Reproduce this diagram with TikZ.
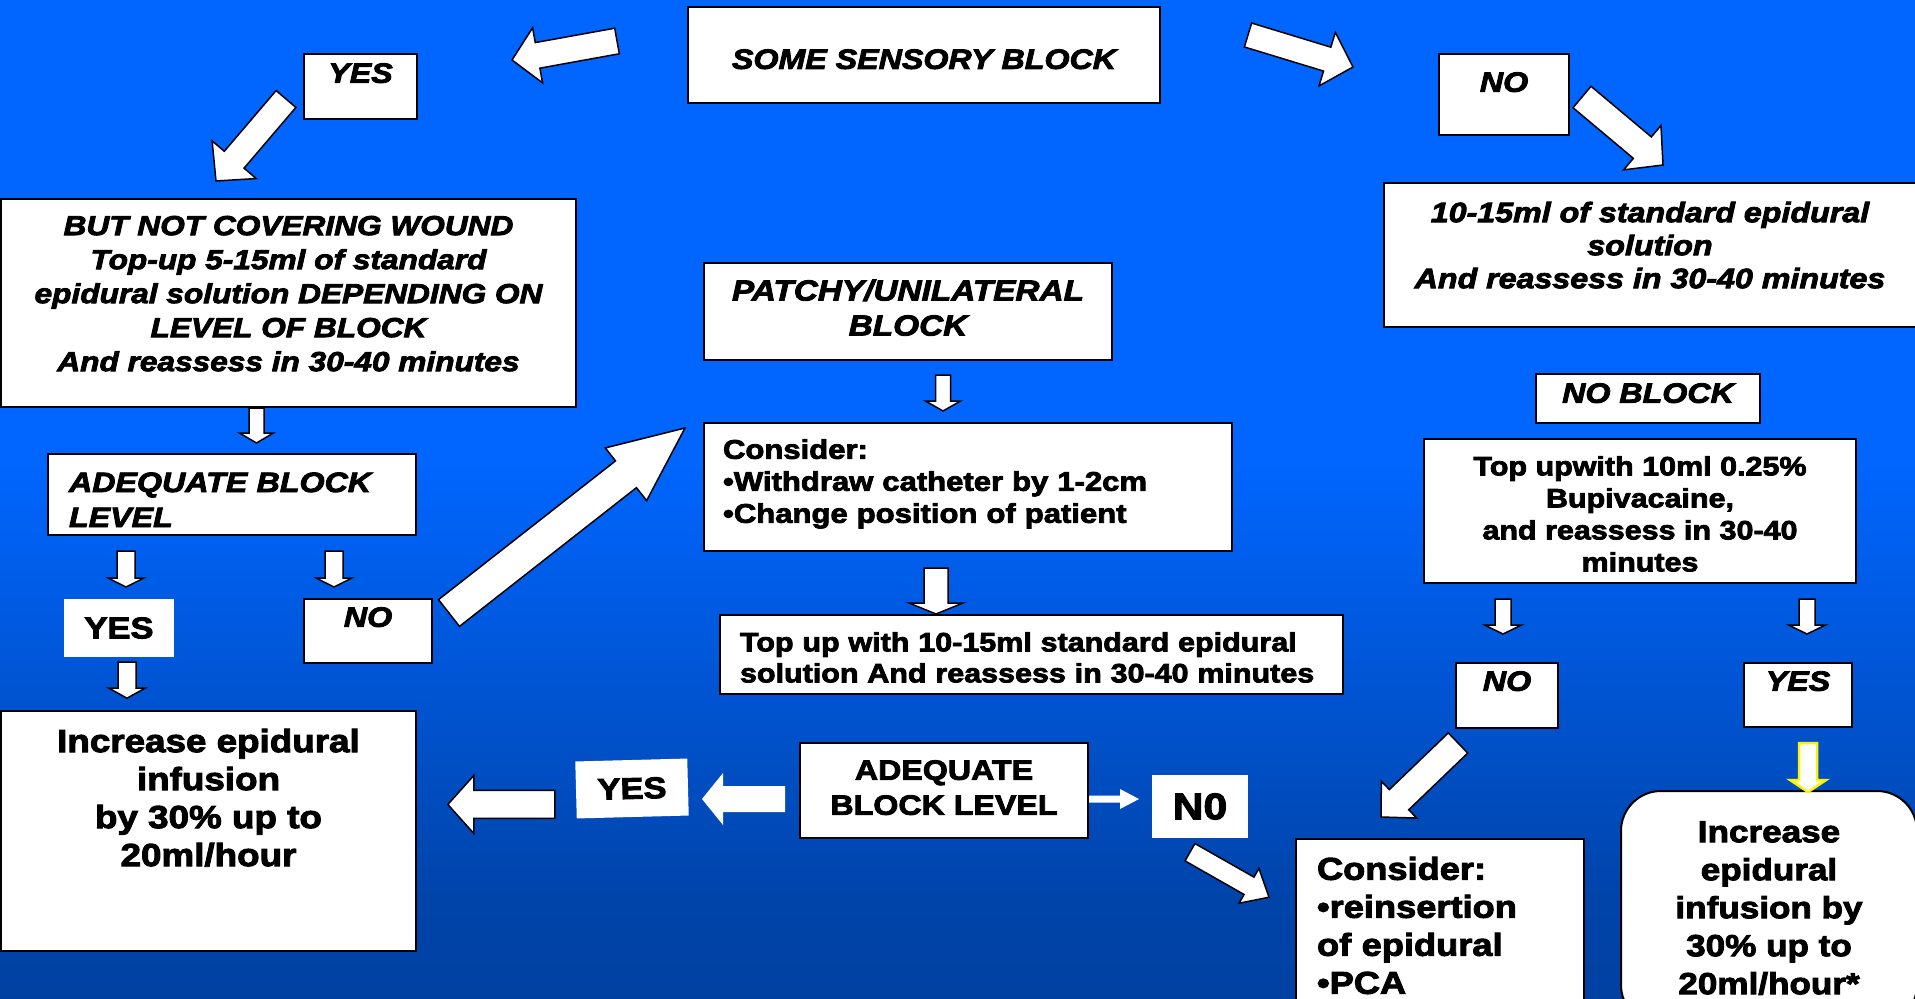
\documentclass[tikz,border=0pt]{standalone}
\usepackage{fontspec}
\setmainfont{Liberation Sans}[FakeStretch=1.15,FakeBold=3]
\usetikzlibrary{calc}

\definecolor{bgtop}{RGB}{0,86,214}
\definecolor{bgmid}{RGB}{0,102,255}
\definecolor{bgdeep}{RGB}{0,68,170}
\definecolor{bgbot}{RGB}{0,46,118}
\pgfdeclareverticalshading{slidebg}{100bp}{color(0bp)=(bgbot); color(30bp)=(bgdeep); color(52bp)=(bgmid); color(85bp)=(bgmid); color(100bp)=(bgtop)}

% block arrow: [style]{tail}{tip}{half shaft}{half head}{head length}
\newcommand{\fatarrow}[6][]{%
  \coordinate (fa) at ($(#3)!#6!(#2)$);
  \draw[arrowbody,#1] ($(#2)!#4!90:(#3)$) -- ($(fa)!#4!-90:(#2)$)
    -- ($(fa)!#5!-90:(#2)$) -- (#3) -- ($(fa)!#5!90:(#2)$)
    -- ($(fa)!#4!90:(#2)$) -- ($(#2)!#4!-90:(#3)$) -- cycle;
}

\begin{document}
\begin{tikzpicture}[x=1pt,y=-1pt,
    box/.style={draw=black,fill=white,line width=2pt,inner sep=0pt},
    tag/.style={fill=white,inner sep=0pt},
    hd/.style={font=\bfseries\itshape\fontsize{28}{35}\selectfont},
    arrowbody/.style={draw=black,fill=white,line width=1.5pt,line join=miter},
    bare/.style={draw=none},
    gold/.style={draw=yellow,line width=2.5pt}]

    \useasboundingbox (0,0) rectangle (1915,999);
    \clip (0,0) rectangle (1915,999);
    \shade[shading=slidebg] (0,0) rectangle (1915,999);

    % top row
    \node[box,hd,minimum width=472pt,minimum height=96pt,text height=28pt] (sensory) at (924,55) {SOME SENSORY BLOCK};
    \node[box,hd,minimum width=113pt,minimum height=65pt,text depth=27pt] (yesA) at (360.5,86.5) {YES};
    \node[box,hd,minimum width=130pt,minimum height=81pt,text depth=25pt] (noA) at (1504,94.5) {NO};

    % left branch
    \node[box,font=\bfseries\itshape\fontsize{27.5}{34}\selectfont,align=center,minimum width=575pt,minimum height=208pt,text depth=19pt] (wound) at (288.5,303)
        {BUT NOT COVERING WOUND\\Top-up 5-15ml of standard\\epidural solution DEPENDING ON\\LEVEL OF BLOCK\\And reassess in 30-40 minutes};
    \node[box,hd,align=left,text width=326pt,inner xsep=21pt,minimum height=81pt,text height=30pt] (adequateA) at (232,494.5) {ADEQUATE BLOCK\\LEVEL};
    \node[tag,font=\bfseries\fontsize{30}{36}\selectfont,minimum width=110pt,minimum height=58pt] (yesB) at (119,628) {YES};
    \node[box,hd,minimum width=128pt,minimum height=64pt,text depth=28pt] (noB) at (368,631) {NO};
    \node[box,font=\bfseries\fontsize{32}{38}\selectfont,align=center,minimum width=415pt,minimum height=240pt,text depth=67pt] (increaseA) at (208.5,831)
        {Increase epidural\\infusion\\by 30\% up to\\20ml/hour};

    % middle
    \node[box,font=\bfseries\itshape\fontsize{29}{35}\selectfont,align=center,minimum width=408pt,minimum height=97pt,text depth=8pt] (patchy) at (908,311.5) {PATCHY/UNILATERAL\\BLOCK};
    \node[box,font=\bfseries\fontsize{27}{32}\selectfont,align=left,text width=490pt,inner xsep=19pt,minimum height=128pt,text depth=76pt] (considerA) at (968,487)
        {Consider:\\•Withdraw catheter by 1-2cm\\•Change position of patient};
    \node[box,font=\bfseries\fontsize{26.5}{31}\selectfont,align=left,text width=583pt,inner xsep=20pt,minimum height=79pt,text height=25pt] (topupA) at (1031.5,654.5)
        {Top up with 10-15ml standard epidural\\solution And reassess in 30-40 minutes};
    \node[box,font=\bfseries\fontsize{28}{35}\selectfont,align=center,minimum width=288pt,minimum height=95pt,text depth=6pt] (adequateB) at (944,790.5) {ADEQUATE\\BLOCK LEVEL};
    \node[tag,font=\bfseries\fontsize{30}{36}\selectfont,minimum width=112pt,minimum height=57pt,rotate=1.5] (yesC) at (632,788.5) {YES};
    \node[tag,font=\bfseries\fontsize{37}{44}\selectfont,minimum width=96pt,minimum height=63pt] (noD) at (1200,806.5) {N0};

    % right branch
    \node[box,font=\bfseries\itshape\fontsize{28}{33}\selectfont,align=center,minimum width=532pt,minimum height=144pt,text depth=20pt] (standard) at (1650,255)
        {10-15ml of standard epidural\\solution\\And reassess in 30-40 minutes};
    \node[box,hd,minimum width=224pt,minimum height=49pt,text depth=11pt] (noBlock) at (1648,398.5) {NO BLOCK};
    \node[box,font=\bfseries\fontsize{26.5}{32}\selectfont,align=center,minimum width=432pt,minimum height=144pt,text height=121pt] (topupB) at (1640,511)
        {Top upwith 10ml 0.25\%\\Bupivacaine,\\and reassess in 30-40\\minutes};
    \node[box,hd,minimum width=102pt,minimum height=65pt,text depth=29pt] (noC) at (1507,695.5) {NO};
    \node[box,hd,minimum width=108pt,minimum height=64pt,text depth=28pt] (yesD) at (1798,695) {YES};
    \node[box,font=\bfseries\fontsize{31.5}{38}\selectfont,align=left,text width=246pt,inner xsep=21pt,minimum height=173pt] (considerB) at (1440,925.5)
        {Consider:\\•reinsertion\\of epidural\\•PCA};
    \node[box,rounded corners=40pt,font=\bfseries\fontsize{30.5}{38}\selectfont,align=center,minimum width=296pt,minimum height=234pt] (infusion) at (1769,908)
        {Increase\\epidural\\infusion by\\30\% up to\\20ml/hour*};

    % arrows
    \coordinate (s1) at ($(sensory.west)+(-70,-14)$);  \coordinate (t1) at ($(sensory.west)+(-175,5)$);
    \coordinate (s2) at ($(sensory.east)+(87,-20)$);   \coordinate (t2) at ($(sensory.east)+(192,12)$);
    \coordinate (s3) at ($(yesA.west)+(-17,12.5)$);    \coordinate (t3) at ($(yesA.west)+(-87,94.5)$);
    \coordinate (s4) at ($(noA.east)+(12,2.5)$);       \coordinate (t4) at ($(noA.east)+(93,70.5)$);
    \coordinate (s5) at ($(wound.south)+(-32,0)$);     \coordinate (t5) at ($(wound.south)+(-32,35)$);
    \coordinate (s6) at ($(adequateA.south west)+(79,15)$);  \coordinate (t6) at ($(adequateA.south west)+(79,51)$);
    \coordinate (s7) at ($(adequateA.south west)+(287,15)$); \coordinate (t7) at ($(adequateA.south west)+(287,51)$);
    \coordinate (s8) at ($(yesB.south)+(8,5)$);        \coordinate (t8) at ($(yesB.south)+(8,41)$);
    \coordinate (s9) at ($(noB.east)+(16,-18)$);       \coordinate (t9) at ($(noB.east)+(252,-203)$);
    \coordinate (s10) at ($(patchy.south)+(35,14)$);   \coordinate (t10) at ($(patchy.south)+(35,50)$);
    \coordinate (s11) at ($(considerA.south)+(-32,16)$); \coordinate (t11) at ($(considerA.south)+(-32,62)$);
    \coordinate (s12) at ($(adequateB.west)+(-14,8.5)$); \coordinate (t12) at ($(adequateB.west)+(-97,8.5)$);
    \coordinate (s13) at ($(yesC.west)+(-21,14.5)$);   \coordinate (t13) at ($(yesC.west)+(-128,14.5)$);
    \coordinate (s14) at ($(adequateB.east)+(0,8.5)$); \coordinate (t14) at ($(adequateB.east)+(50,8.5)$);
    \coordinate (s15) at ($(noD.south)+(-10,14)$);     \coordinate (t15) at ($(noD.south)+(69,59)$);
    \coordinate (s16) at ($(topupB.south)+(-137,15)$); \coordinate (t16) at ($(topupB.south)+(-137,50)$);
    \coordinate (s17) at ($(topupB.south)+(167,15)$);  \coordinate (t17) at ($(topupB.south)+(167,50)$);
    \coordinate (s18) at ($(noC.south)+(-49,14)$);     \coordinate (t18) at ($(noC.south)+(-126,88)$);
    \coordinate (s19) at ($(yesD.south)+(10,15)$);     \coordinate (t19) at ($(yesD.south)+(10,64)$);

    \fatarrow{s1}{t1}{13pt}{28pt}{26pt}
    \fatarrow{s2}{t2}{12.5pt}{28pt}{27pt}
    \fatarrow{s3}{t3}{13pt}{29pt}{28pt}
    \fatarrow{s4}{t4}{14pt}{29pt}{27pt}
    \fatarrow{s5}{t5}{7.5pt}{17pt}{10pt}
    \fatarrow{s6}{t6}{9pt}{18pt}{9pt}
    \fatarrow{s7}{t7}{9pt}{18pt}{9pt}
    \fatarrow{s8}{t8}{9pt}{18pt}{10pt}
    \fatarrow{s9}{t9}{17pt}{33.5pt}{75pt}
    \fatarrow{s10}{t10}{7.5pt}{17.5pt}{10pt}
    \fatarrow{s11}{t11}{12pt}{27pt}{11pt}
    \fatarrow[bare]{s12}{t12}{13pt}{26pt}{21pt}
    \fatarrow{s13}{t13}{14pt}{29pt}{26pt}
    \fatarrow[bare]{s14}{t14}{3.5pt}{10pt}{19pt}
    \fatarrow{s15}{t15}{10pt}{20pt}{23pt}
    \fatarrow{s16}{t16}{8pt}{18.5pt}{9pt}
    \fatarrow{s17}{t17}{8pt}{18.5pt}{9pt}
    \fatarrow{s18}{t18}{14pt}{25.5pt}{25pt}
    \fatarrow[gold]{s19}{t19}{9pt}{18pt}{12pt}
    %~ \fatarrow{s20}{t20}{9pt}{18pt}{12pt}
\end{tikzpicture}
\end{document}
